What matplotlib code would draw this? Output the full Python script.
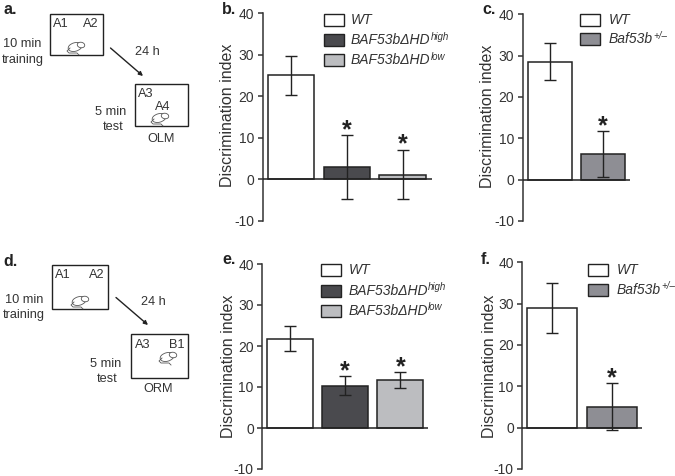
import matplotlib
matplotlib.use('Agg')
import matplotlib.pyplot as plt
from matplotlib.patches import Rectangle, Ellipse

plt.rcParams['font.family'] = ['Liberation Sans', 'DejaVu Sans']
plt.rcParams['axes.unicode_minus'] = False

#data
b_vals = [25.2, 3.0, 1.1]
b_low = [20.4, -4.8, -4.8]
b_high = [29.8, 10.7, 7.1]
c_vals = [28.5, 6.1]
c_low = [24.0, 0.6]
c_high = [33.0, 11.7]
e_vals = [21.8, 10.3, 11.7]
e_low = [18.7, 8.0, 9.8]
e_high = [24.9, 12.6, 13.6]
f_vals = [29.0, 5.0]
f_low = [23.0, -0.5]
f_high = [35.0, 10.7]
y_ticks = [-10, 0, 10, 20, 30, 40]

b_names = [('WT', ''), ('BAF53bΔHD', 'high'), ('BAF53bΔHD', 'low')]
c_names = [('WT', ''), ('Baf53b', '+/–')]

INK = '#333333'
three_cols = ['white', '#4a4a4e', '#bcbdc0']
two_cols = ['white', '#8e8e94']

W, H = 675, 476
fig = plt.figure(figsize=(6.75, 4.76), dpi=100)

#overlay in pixel coordinates for schematics, letters and legends
over = fig.add_axes([0, 0, 1, 1], zorder=5)
over.set_xlim(0, W)
over.set_ylim(H, 0)
over.axis('off')


def panel(axis_x, right, y40, y_neg, first, step, width, vals, low, high, cols,
          label_x, label_y, letter, letter_x, letter_y):
    ax = fig.add_axes([axis_x / W, 1 - y_neg / H, (right - axis_x) / W, (y_neg - y40) / H])
    ax.patch.set_alpha(0)
    ax.set_xlim(axis_x, right)
    ax.set_ylim(-10, 40)
    xs = [first + i * step for i in range(len(vals))]
    ax.bar(xs, vals, width=width, color=cols, edgecolor='#222222', linewidth=1.1, zorder=2)
    for x, v, lo, hi in zip(xs, vals, low, high):
        ax.errorbar(x, v, yerr=[[v - lo], [hi - v]], color='#222222', elinewidth=1,
                    capsize=4.4, capthick=1, zorder=3)
    ax.axhline(0, color='#222222', lw=1.1, zorder=4)
    for s in ['top', 'right', 'bottom']:
        ax.spines[s].set_visible(False)
    ax.spines['left'].set_color(INK)
    ax.spines['left'].set_linewidth(1.1)
    ax.set_xticks([])
    ax.set_yticks(y_ticks)
    ax.tick_params(axis='y', length=3.6, width=1.1, color=INK, labelcolor=INK,
                   labelsize=10, pad=2.5)
    ax.set_ylabel('Discrimination index', fontsize=11.5, color=INK)
    ax.yaxis.set_label_coords(label_x + 8, label_y, transform=over.transData)
    for x, hi in list(zip(xs, high))[1:]:
        ax.annotate('*', (x, hi), xytext=(0, 5), textcoords='offset pixels',
                    ha='center', va='center', fontsize=18, fontweight='bold', color='#222222')
    over.text(letter_x, letter_y, letter, fontsize=11.5, fontweight='bold', color='#222222',
              ha='left', va='center')


def legend(x, tops, names, cols, text_x, box_w=20, box_h=11.5):
    renderer = fig.canvas.get_renderer()
    for top, (name, sup), col in zip(tops, names, cols):
        over.add_patch(Rectangle((x, top), box_w, box_h, fc=col, ec='#222222', lw=1))
        t = over.text(text_x, top + box_h / 2, name, fontsize=10, color=INK, style='italic',
                      ha='left', va='center')
        if sup:
            end = t.get_window_extent(renderer).x1
            over.text(end + 0.5, top + box_h / 2 - 3.5, sup, fontsize=7, color=INK, style='italic',
                      ha='left', va='center')


def mouse(x, y):
    # small outline mouse for the arena boxes
    over.plot([x - 6, x - 9, x - 7, x + 1, x + 3], [y + 1, y + 4, y + 6, y + 6, y + 8],
              color='#555555', lw=0.6)
    over.add_patch(Ellipse((x - 1, y), 14, 8.5, angle=-15, fc='white', ec='#555555', lw=0.6))
    over.add_patch(Ellipse((x + 5, y - 2), 7.5, 5.5, angle=10, fc='white', ec='#555555', lw=0.6))


def schematic(box1, box2, arrow, texts, mice):
    for x0, y0, x1, y1 in [box1, box2]:
        over.add_patch(Rectangle((x0, y0), x1 - x0, y1 - y0, fc='white', ec='#222222', lw=1))
    over.annotate('', xy=arrow[2:], xytext=arrow[:2],
                  arrowprops=dict(arrowstyle='-|>', color='#222222', lw=1,
                                  mutation_scale=6, shrinkA=0, shrinkB=0))
    for x, y, s in texts:
        over.text(x, y, s, fontsize=9.2, color=INK, ha='center', va='center')
    for x, y in mice:
        mouse(x, y)


schematic((50, 13.7, 102.7, 55), (135, 84.3, 187.7, 126), (110.5, 48, 143, 76),
          [(61, 24, 'A1'), (91, 24, 'A2'), (22.5, 44, '10 min'), (22.5, 60, 'training'),
           (147, 52, '24 h'), (146, 94, 'A3'), (163, 107, 'A4'), (111, 112, '5 min'),
           (113, 127, 'test'), (161, 139, 'OLM')],
          [(76, 47), (160, 118)])
over.text(3, 9, 'a.', fontsize=11.5, fontweight='bold', color='#222222', ha='left', va='center')

schematic((51.7, 264.7, 108.3, 309.3), (131.3, 333.7, 187.7, 378.3), (116, 297.5, 148, 325),
          [(63, 275, 'A1'), (97, 275, 'A2'), (24, 300, '10 min'), (24, 315, 'training'),
           (153, 302, '24 h'), (142.5, 345, 'A3'), (177, 345, 'B1'), (106, 364, '5 min'),
           (107.5, 379, 'test'), (158.5, 389, 'ORM')],
          [(80, 301), (168, 357)])
over.text(3, 262, 'd.', fontsize=11.5, fontweight='bold', color='#222222', ha='left', va='center')

panel(262.7, 431.7, 13.3, 220.7, 291, 55.8, 46.5, b_vals, b_low, b_high, three_cols,
      227, 115, 'b.', 221.7, 9)
panel(522.7, 630, 14.3, 221, 549.7, 53.3, 44, c_vals, c_low, c_high, two_cols,
      487, 116, 'c.', 482, 10)
panel(262.3, 428.3, 264, 469, 289.7, 55.3, 46, e_vals, e_low, e_high, three_cols,
      228, 366, 'e.', 222, 260)
panel(522.3, 641.7, 262.3, 469, 552.5, 59.2, 50, f_vals, f_low, f_high, two_cols,
      489, 366, 'f.', 481, 260)

legend(323.7, [14, 34.3, 54.3], b_names, three_cols, 350.7)
legend(580.3, [14, 33.3], c_names, two_cols, 609)
legend(321.3, [264.3, 285, 305], b_names, three_cols, 348.3)
legend(588.3, [264, 284], c_names, two_cols, 616.7)

plt.savefig('out.png', dpi=100)
